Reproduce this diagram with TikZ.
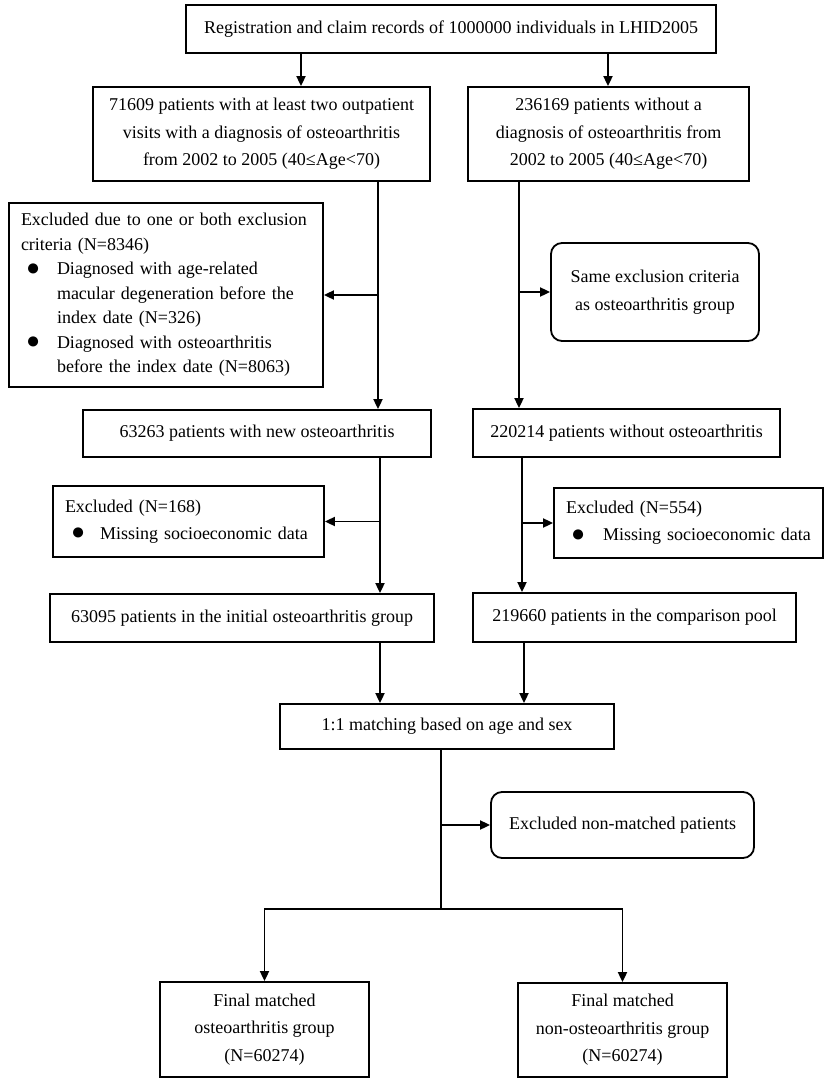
\documentclass[tikz,border=0pt]{standalone}
\usepackage{fontspec}
\setmainfont{Liberation Serif}
\usetikzlibrary{arrows.meta}
\newcommand\bdot{\raisebox{-0.5pt}{\scalebox{1.3}{●}}}
\newcommand\bitem{\makebox[36pt][l]{\hspace{5pt}\bdot}}
\begin{document}
\begin{tikzpicture}[x=1pt,y=-1pt,
  box/.style={draw, line width=1.8pt, inner sep=0pt, align=center, font=\fontsize{18}{27.5}\selectfont},
  rbox/.style={box, rounded corners=11pt},
  lbox/.style={box, align=left, inner xsep=12pt},
  ln/.style={line width=1.8pt},
  arr/.style={ln, -{Triangle[length=10pt,width=9pt]}}]
\useasboundingbox (0,0) rectangle (829,1089);

\node[box, minimum width=530pt, minimum height=48pt] (top) at (451,29)
  {Registration and claim records of 1000000 individuals in LHID2005};
\node[box, minimum width=337pt, minimum height=94pt] (A) at (261.5,134)
  {71609 patients with at least two outpatient\\visits with a diagnosis of osteoarthritis\\from 2002 to 2005 (40≤Age<70)};
\node[box, minimum width=281pt, minimum height=94pt] (B) at (608.5,134)
  {236169 patients without a\\diagnosis of osteoarthritis from\\2002 to 2005 (40≤Age<70)};

\node[lbox, text width=290pt, inner xsep=12pt, minimum height=184pt,
      font=\fontsize{18}{24.5}\selectfont] (exc1) at (166,295)
  {Excluded due to one or both exclusion\\
   criteria (N=8346)\\
   \bitem Diagnosed with age-related\\
   \hspace*{36pt}macular degeneration before the\\
   \hspace*{36pt}index date (N=326)\\
   \bitem Diagnosed with osteoarthritis\\
   \hspace*{36pt}before the index date (N=8063)};

\node[rbox, minimum width=208pt, minimum height=98pt] (same) at (655,292)
  {Same exclusion criteria\\as osteoarthritis group};

\node[box, minimum width=348pt, minimum height=47pt] (n1) at (257,433.5)
  {63263 patients with new osteoarthritis};
\node[box, minimum width=307pt, minimum height=48pt] (n2) at (626.5,433)
  {220214 patients without osteoarthritis};

\node[lbox, text width=247pt, minimum height=71pt,
      font=\fontsize{18}{27}\selectfont] (exa) at (188.5,521.5)
  {Excluded (N=168)\\\makebox[35pt][l]{\hspace{6pt}\bdot}Missing socioeconomic data};
\node[lbox, text width=245pt, minimum height=70pt,
      font=\fontsize{18}{27}\selectfont] (exb) at (688.5,523)
  {Excluded (N=554)\\\makebox[37pt][l]{\hspace{5pt}\bdot}Missing socioeconomic data};

\node[box, minimum width=384pt, minimum height=48pt] (n3) at (242,618)
  {63095 patients in the initial osteoarthritis group};
\node[box, minimum width=323pt, minimum height=49pt] (n4) at (634.5,617.5)
  {219660 patients in the comparison pool};

\node[box, minimum width=334pt, minimum height=45pt] (match) at (447,726.5)
  {1:1 matching based on age and sex};
\node[rbox, minimum width=263pt, minimum height=66pt] (nonm) at (622.5,825)
  {Excluded non-matched patients};

\node[box, minimum width=209pt, minimum height=95pt] (fL) at (264.5,1029.5)
  {Final matched\\osteoarthritis group\\(N=60274)};
\node[box, minimum width=209pt, minimum height=94pt] (fR) at (622.5,1030)
  {Final matched\\non-osteoarthritis group\\(N=60274)};

% connectors
\coordinate (tL) at (301,0);
\coordinate (tR) at (608,0);
\coordinate (c1) at (378,0);
\coordinate (c2) at (519,0);
\coordinate (c3) at (380,0);
\coordinate (c4) at (522,0);
\coordinate (c5) at (524,0);
\coordinate (split) at (441,909);

\draw[arr] (top.south -| tL) -- (A.north -| tL);
\draw[arr] (top.south -| tR) -- (B.north -| tR);

\draw[arr] (A.south -| c1) -- (n1.north -| c1);
\draw[arr] (c1 |- exc1.east) -- (exc1.east);
\draw[arr] (B.south -| c2) -- (n2.north -| c2);
\draw[arr] (c2 |- same.west) -- (same.west);

\draw[arr] (n1.south -| c3) -- (n3.north -| c3);
\draw[arr] (c3 |- exa.east) -- (exa.east);
\draw[arr] (n2.south -| c4) -- (n4.north -| c4);
\draw[arr] (c4 |- exb.west) -- (exb.west);

\draw[arr] (n3.south -| c3) -- (match.north -| c3);
\draw[arr] (n4.south -| c5) -- (match.north -| c5);

\draw[ln] (match.south -| split) -- (split);
\draw[arr] (split |- nonm.west) -- (nonm.west);
\draw[arr] (split) -| (fL.north);
\draw[arr] (split) -| (fR.north);
\end{tikzpicture}
\end{document}
